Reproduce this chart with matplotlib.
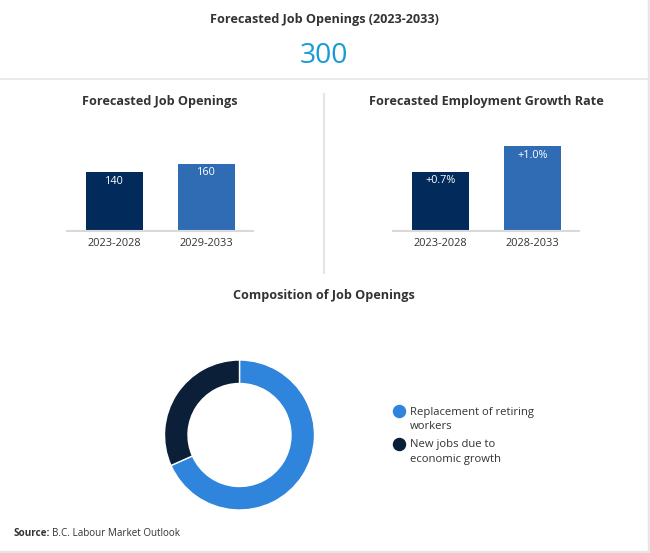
import matplotlib
matplotlib.use("Agg")
import matplotlib.pyplot as plt

plt.rcParams['font.family'] = ['Open Sans', 'DejaVu Sans']

W, H = 650, 553

# ---- data ----
main_title = "Forecasted Job Openings (2023-2033)"
total_openings = "300"

jobs_periods = ["2023-2028", "2029-2033"]
jobs_values = [140, 160]
jobs_labels = ["140", "160"]

growth_periods = ["2023-2028", "2028-2033"]
growth_values = [0.7, 1.0]
growth_labels = ["+0.7%", "+1.0%"]

comp_categories = ["Replacement of retiring\nworkers", "New jobs due to\neconomic growth"]
comp_values = [205, 95]

bar_colors = ["#022a5a", "#2f6cb4"]
donut_colors = ["#2f84dc", "#0c1f38"]
text_color = "#333333"
line_color = "#e6e6e6"

fig = plt.figure(figsize=(W / 100, H / 100), dpi=100)
fig.patch.set_facecolor("white")


def px_axes(x0, y0, x1, y1, **kw):
    return fig.add_axes([x0 / W, 1 - y1 / H, (x1 - x0) / W, (y1 - y0) / H], **kw)


# overlay for frame lines and free text
ov = px_axes(0, 0, W, H)
ov.set_xlim(0, W)
ov.set_ylim(H, 0)
ov.axis("off")
ov.plot([0, 648], [79, 79], color=line_color, lw=1.2)
ov.plot([648.5, 648.5], [0, 553], color=line_color, lw=2.5)
ov.plot([0, 650], [551.5, 551.5], color=line_color, lw=2.5)
ov.plot([324, 324], [94, 273], color=line_color, lw=1.5)

ov.text(324, 20, main_title, ha="center", va="center", fontsize=9.1,
        fontweight="bold", color=text_color)
ov.text(324, 56, total_openings, ha="center", va="center", fontsize=20.3,
        color="#1a9bd7")
ov.text(160, 101, "Forecasted Job Openings", ha="center", va="center",
        fontsize=9.1, fontweight="bold", color=text_color)
ov.text(486, 101, "Forecasted Employment Growth Rate", ha="center",
        va="center", fontsize=9.1, fontweight="bold", color=text_color)
ov.text(324, 295, "Composition of Job Openings", ha="center", va="center",
        fontsize=9.1, fontweight="bold", color=text_color)
src = ov.text(13, 533, "Source:", ha="left", va="center", fontsize=7.1,
              fontweight="bold", color=text_color)
fig.canvas.draw()
bb = src.get_window_extent()
inv = ov.transData.inverted()
x_end = inv.transform((bb.x1, bb.y0))[0]
ov.text(x_end + 2, 533, "B.C. Labour Market Outlook", ha="left", va="center",
        fontsize=7.1, color=text_color)


def bar_panel(x0, x1, periods, values, labels, ymax):
    ax = px_axes(x0, 120, x1, 231)
    xs = range(len(values))
    bars = ax.bar(xs, values, width=0.62, color=bar_colors)
    ax.set_xlim(-0.51, 1.5)
    ax.set_ylim(0, ymax)
    ax.set_xticks(list(xs))
    ax.set_xticklabels(periods, fontsize=7.9, color=text_color)
    ax.tick_params(axis="x", length=0, pad=5)
    ax.set_yticks([])
    for s in ["top", "right", "left"]:
        ax.spines[s].set_visible(False)
    ax.spines["bottom"].set_color("#d9d9d9")
    ax.spines["bottom"].set_linewidth(1.5)
    ax.set_facecolor("none")
    for b, lab in zip(bars, labels):
        ax.annotate(lab, (b.get_x() + b.get_width() / 2, b.get_height()),
                    xytext=(0, -6.5), textcoords="offset points", ha="center",
                    va="center", color="white", fontsize=7.8)
    return ax


bar_panel(67, 253, jobs_periods, jobs_values, jobs_labels, 111 / 0.4214)
bar_panel(393, 579, growth_periods, growth_values, growth_labels, 111 / 85.0)

# donut
R = 75
cx, cy = 239.5, 435
axd = px_axes(cx - 80, cy - 80, cx + 80, cy + 80)
axd.pie(comp_values, colors=donut_colors, startangle=90, counterclock=False,
        radius=1, wedgeprops=dict(width=23.5 / R, edgecolor="white", linewidth=1))
axd.set_xlim(-80 / R, 80 / R)
axd.set_ylim(-80 / R, 80 / R)
axd.set_aspect("equal")
axd.axis("off")

# legend
leg_y = [411, 444]
for cat, col, y in zip(comp_categories, donut_colors, leg_y):
    ov.scatter([398.5], [y], s=75, color=col, zorder=3)
    ov.text(410, y - 4.5, cat, ha="left", va="top", fontsize=8.1,
            color=text_color, linespacing=1.42)

fig.savefig("out.png", dpi=100, facecolor="white")
